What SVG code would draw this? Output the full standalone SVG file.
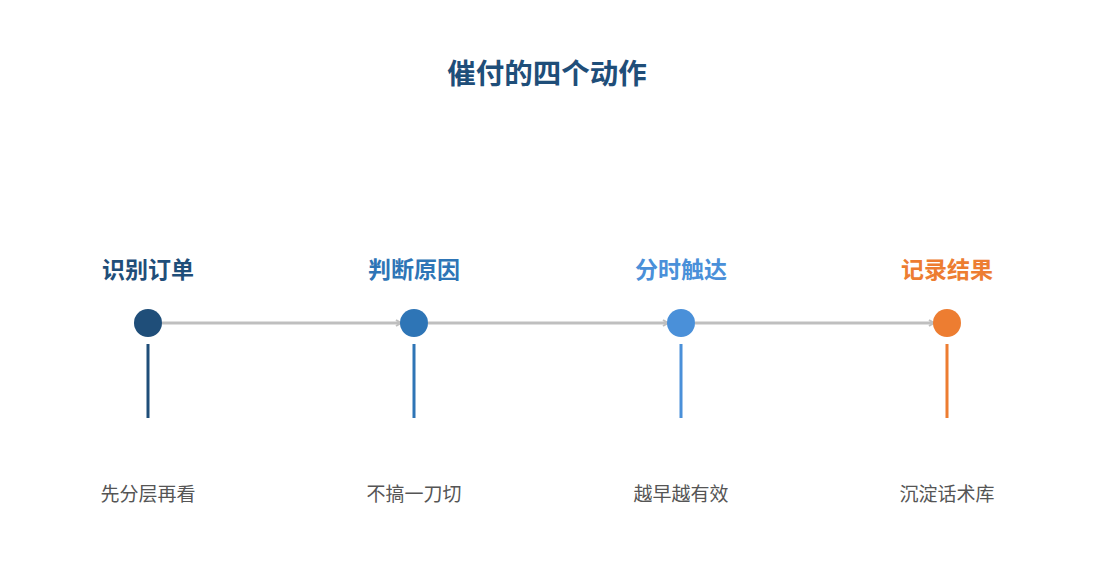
<svg xmlns="http://www.w3.org/2000/svg" width="1095" height="585" viewBox="0 0 1095 585">
<style>
text{font-family:"Noto Sans CJK SC","Liberation Sans",sans-serif;text-anchor:middle}
.title{font-size:28.5px;font-weight:bold;fill:#1f4e79}
.lbl{font-size:23px;font-weight:bold}
.sub{font-size:19px;fill:#555555}
.conn{stroke:#bfbfbf;stroke-width:3;fill:none;marker-end:url(#arr)}
</style>
<defs>
<marker id="arr" markerWidth="8" markerHeight="8" refX="6" refY="4" orient="auto" markerUnits="userSpaceOnUse">
<path d="M1,1 L6,4 L1,7" fill="none" stroke="#bfbfbf" stroke-width="2"/>
</marker>
</defs>
<rect width="1095" height="585" fill="#ffffff"/>
<text class="title" x="547" y="84">催付的四个动作</text>
<g id="connectors">
<line class="conn" x1="162" y1="323" x2="401" y2="323"/>
<line class="conn" x1="428" y1="323" x2="668" y2="323"/>
<line class="conn" x1="695" y1="323" x2="934" y2="323"/>
</g>
<g id="node1">
<text class="lbl" x="148" y="278" fill="#1f4e79">识别订单</text>
<circle cx="148" cy="323" r="14" fill="#1f4e79"/>
<rect x="146.5" y="344" width="3" height="74" fill="#1f4e79"/>
<text class="sub" x="148" y="501">先分层再看</text>
</g>
<g id="node2">
<text class="lbl" x="414" y="278" fill="#2e75b6">判断原因</text>
<circle cx="414" cy="323" r="14" fill="#2e75b6"/>
<rect x="412.5" y="344" width="3" height="74" fill="#2e75b6"/>
<text class="sub" x="414" y="501">不搞一刀切</text>
</g>
<g id="node3">
<text class="lbl" x="681" y="278" fill="#4a90d9">分时触达</text>
<circle cx="681" cy="323" r="14" fill="#4a90d9"/>
<rect x="679.5" y="344" width="3" height="74" fill="#4a90d9"/>
<text class="sub" x="681" y="501">越早越有效</text>
</g>
<g id="node4">
<text class="lbl" x="947" y="278" fill="#ed7d31">记录结果</text>
<circle cx="947" cy="323" r="14" fill="#ed7d31"/>
<rect x="945.5" y="344" width="3" height="74" fill="#ed7d31"/>
<text class="sub" x="947" y="501">沉淀话术库</text>
</g>
</svg>
